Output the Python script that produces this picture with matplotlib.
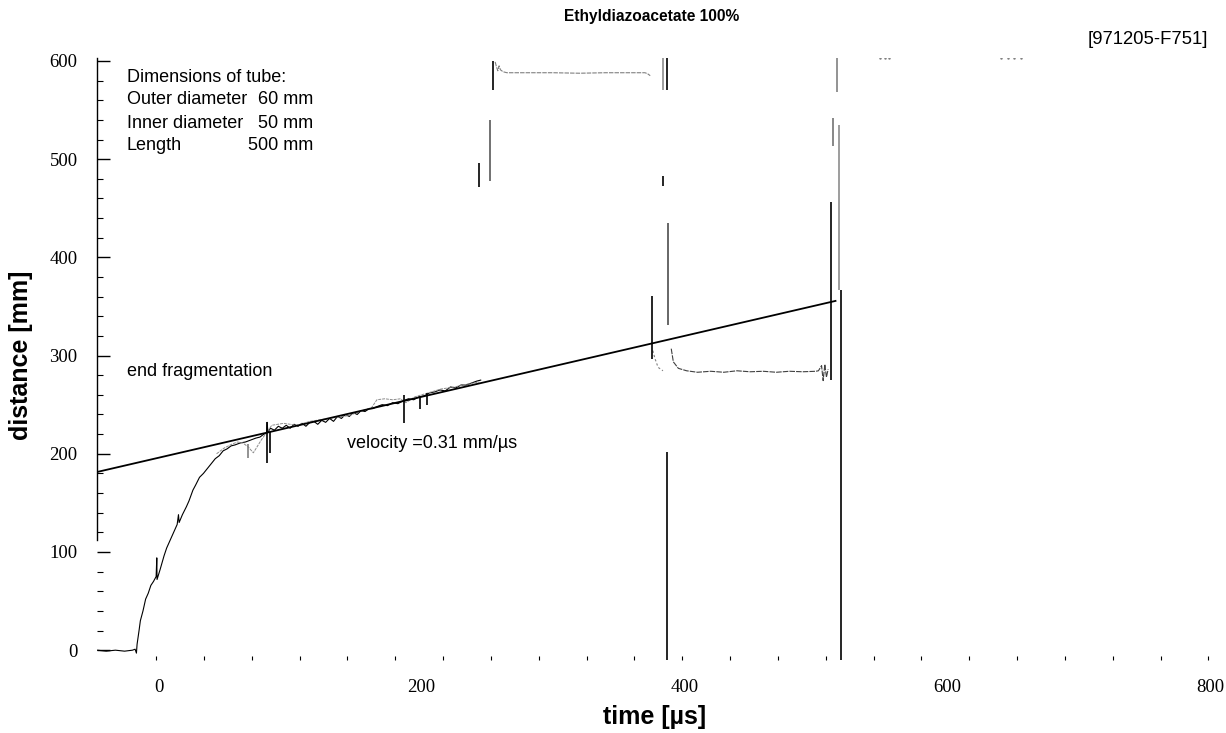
import numpy as np
import matplotlib
matplotlib.use("Agg")
import matplotlib.pyplot as plt

# ---------------- data ----------------
title = "Ethyldiazoacetate 100%"
run_id = "[971205-F751]"
x_ticks = [0, 200, 400, 600, 800]
y_ticks = [0, 100, 200, 300, 400, 500, 600]

# main trajectory (time in µs, distance in mm)
main_t = [-47, -40, -33, -26, -20, -18, -17, -16.5, -15, -14, -12, -10, -8, -6, -4, -2,
          -1.5, -1.3, 1, 4, 6, 9, 12, 14, 15, 15.5, 18, 21, 23, 26, 28, 31, 34, 37, 40,
          43, 46, 49, 52, 55, 58, 62, 66, 70, 74, 77, 80, 82, 82.5, 83, 85, 88, 91, 94,
          97, 100, 103, 106, 109, 112, 115, 118, 121, 124, 127, 130, 133, 136, 139, 142,
          145, 148, 151, 154, 157, 160, 163, 166, 170, 174, 178, 182, 186, 190, 194, 198,
          202, 206, 210, 214, 218, 222, 226, 230, 234, 238, 242, 245]
main_d = [0, -1, 0, -1, 0, 1, -3, 6, 20, 30, 40, 52, 58, 66, 70, 75,
          94, 72, 82, 96, 104, 113, 122, 128, 138, 130, 138, 146, 152, 163, 168, 176, 180, 185, 190,
          195, 198, 203, 205, 208, 209, 211, 212, 214, 216, 217, 220, 221, 232, 222, 226, 224, 228, 226,
          229, 226, 230, 228, 231, 228, 232, 233, 230, 234, 232, 236, 233, 238, 236, 240,
          238, 242, 240, 244, 243, 246, 246, 248, 250, 249, 252, 251, 254, 256, 255, 258,
          259, 262, 263, 265, 264, 268, 267, 270, 270, 272, 274, 275]

# secondary (grey) trace near the fragmentation end
grey_t = [44, 50, 56, 60, 64, 68, 72, 78, 86, 95, 105, 115, 125, 135, 145, 155, 162, 166,
          172, 178, 184, 188, 195, 205, 215, 225, 235, 244]
grey_d = [200, 206, 210, 212, 211, 207, 201, 214, 229, 231, 229, 233, 235, 237, 239, 244,
          247, 255, 256, 255, 256, 252, 258, 262, 266, 268, 271, 273]

# upper plateau trace
top_t = [256, 257, 258, 259, 260, 262, 265, 280, 300, 320, 340, 360, 370, 372, 374]
top_d = [599, 594, 590, 595, 591, 589, 588, 588, 588, 587.5, 588, 588, 588, 587, 585]

# short fragment after first crossing
frag_t = [376, 377.6, 380, 383.7]
frag_d = [305, 297, 288, 284.5]

# lower plateau trace
low_t = [390, 391.6, 395.4, 401.7, 410, 420, 430, 440, 450, 460, 470, 480, 490, 500, 502,
         504.4, 505.6, 506.9, 508.1, 509.4]
low_d = [307, 293.6, 287, 284.5, 283, 284, 283, 284.5, 283.5, 284, 283, 284, 283.5, 284, 284.5,
         289.7, 274.5, 291, 278, 286]

# vertical spikes: time, lower distance, upper distance, shade
spike_t = [82, 85, 186.5, 199, 204, 68, 244, 252, 254, 375, 384, 386.5, 384, 387.5, 387,
           511.5, 513, 516, 518, 519]
spike_lo = [191, 201, 231, 246, 250, 196, 472, 478, 570, 297, 570, 570, 473, 331, -10,
            275, 513, 568, 367, -10]
spike_hi = [232, 222, 260, 258, 262, 210, 496, 540, 600, 361, 604, 604, 483, 435, 202,
            456, 542, 604, 535, 367]
spike_col = ['k', 'k', 'k', 'k', 'k', '0.5', 'k', '0.35', 'k', 'k', '0.55', 'k', 'k', '0.3', 'k',
             'k', '0.45', '0.5', '0.55', 'k']

# linear fit of the fragmentation end
fit_t = [-47, 515]
velocity = 0.31
intercept = 196

# stray points near the top border
stray_t = [549, 553, 556, 641, 646, 651, 656]
stray_d = [603, 603, 603, 603, 603, 603, 603]

# ---------------- figure ----------------
W, H = 1226, 733
fig = plt.figure(figsize=(W / 100, H / 100), dpi=100)
ax = fig.add_axes([97 / W, 1 - 660 / H, (1210 - 97) / W, (660 - 58) / H])
ax.set_xlim(-47, 800)
ax.set_ylim(-10, 603)

ax.plot(main_t, main_d, color='k', lw=0.8)
ax.plot(grey_t, grey_d, color='0.55', lw=0.7, ls=(0, (3, 1)))
ax.plot(top_t, top_d, color='0.5', lw=0.8, ls=(0, (4, 1)))
ax.plot(frag_t, frag_d, color='0.5', lw=0.8, ls=(0, (2, 2)))
ax.plot(low_t, low_d, color='0.25', lw=0.8, ls=(0, (5, 1)))
for t, lo, hi, c in zip(spike_t, spike_lo, spike_hi, spike_col):
    ax.vlines(t, lo, hi, color=c, lw=1.2)
fit_d = [intercept + velocity * t for t in fit_t]
ax.plot(fit_t, fit_d, color='k', lw=1.3)
ax.plot(stray_t, stray_d, ls='none', marker='.', ms=1.5, color='0.5')

# spines / ticks
for s in ['top', 'right', 'bottom']:
    ax.spines[s].set_visible(False)
ax.spines['left'].set_bounds(112, 603)
ax.spines['left'].set_linewidth(1.0)

serif = 'Liberation Serif'
ax.set_xticks(x_ticks)
ax.set_xticklabels([str(v) for v in x_ticks], fontfamily=serif, fontsize=13.5)
ax.set_yticks(y_ticks)
ax.set_yticklabels([str(v) for v in y_ticks], fontfamily=serif, fontsize=13.5)
ax.tick_params(axis='x', which='major', length=0, pad=14)
ax.tick_params(axis='y', which='major', length=9, direction='in', pad=14, width=1)
ax.set_xticks(np.arange(-2, 800, 36.4), minor=True)
ax.set_yticks(np.arange(20, 600, 20), minor=True)
ax.tick_params(axis='x', which='minor', length=3, direction='in', width=0.8)
ax.tick_params(axis='y', which='minor', length=4, direction='in', width=0.8)

# labels
sans = 'Liberation Sans'
fig.text(21 / W, 1 - 355 / H, "distance [mm]", rotation=90, ha='center', va='center',
         fontfamily=sans, fontweight='bold', fontsize=18)
fig.text(655 / W, 1 - 717 / H, "time [µs]", ha='center', va='center',
         fontfamily=sans, fontweight='bold', fontsize=18)
fig.text(652 / W, 1 - 17 / H, title, ha='center', va='center',
         fontfamily=sans, fontweight='bold', fontsize=11.2)
fig.text(1208 / W, 1 - 40 / H, run_id, ha='right', va='center',
         fontfamily=sans, fontsize=13.3)

def px(x, y):
    return (x / W, 1 - y / H)

ann = dict(fontfamily=sans, fontsize=13, va='center')
fig.text(*px(127, 77), "Dimensions of tube:", ha='left', **ann)
fig.text(*px(127, 100), "Outer diameter", ha='left', **ann)
fig.text(*px(313, 100), "60 mm", ha='right', **ann)
fig.text(*px(127, 123), "Inner diameter", ha='left', **ann)
fig.text(*px(313, 123), "50 mm", ha='right', **ann)
fig.text(*px(127, 146), "Length", ha='left', **ann)
fig.text(*px(313, 146), "500 mm", ha='right', **ann)
fig.text(*px(127, 372), "end fragmentation", ha='left', **ann)
fig.text(*px(347, 443), "velocity =0.31 mm/µs", ha='left', **ann)

fig.savefig("out.png", dpi=100)
